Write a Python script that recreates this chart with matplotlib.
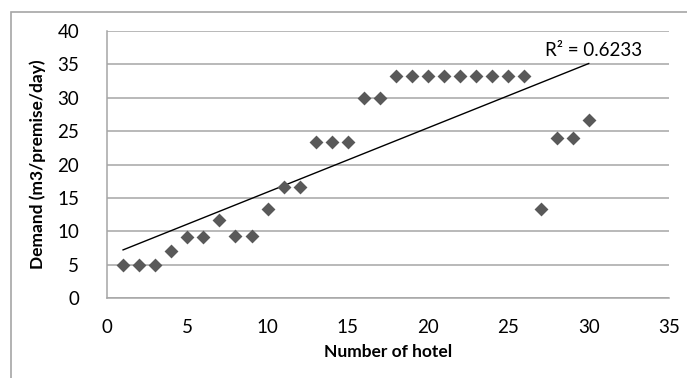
import matplotlib
matplotlib.use('Agg')
import numpy as np
import matplotlib.pyplot as plt
from matplotlib.patches import Rectangle

plt.rcParams['font.family'] = ['Lato', 'DejaVu Sans']

hotels = list(range(1, 31))
demand = [5, 5, 5, 7, 9.2, 9.2, 11.7, 9.3, 9.3, 13.3,
          16.7, 16.7, 23.3, 23.3, 23.3, 30, 30, 33.3, 33.3, 33.3,
          33.3, 33.3, 33.3, 33.3, 33.3, 33.3, 13.3, 24, 24, 26.7]
r2_label = 'R² = 0.6233'

fig = plt.figure(figsize=(6.87, 3.78), dpi=100)
# chart frame (Excel chart area border)
fig.patches.append(Rectangle((11/687, -0.1), 1.2, 1 - 12/378 + 0.1, transform=fig.transFigure,
                             fill=False, edgecolor='#a6a6a6', linewidth=1.2))
ax = fig.add_axes([107/687, 1 - 298/378, (669 - 107)/687, (298 - 31)/378])

ax.scatter(hotels, demand, marker='D', s=50, color='#595959', zorder=3, linewidths=0)

# linear trend line
x = np.array(hotels, dtype=float)
y = np.array(demand)
m, b = np.polyfit(x, y, 1)
xs = np.array([x.min(), x.max()])
ax.plot(xs, m*xs + b, color='black', linewidth=1, zorder=2)
ax.text(30.3, 37.1, r2_label, ha='center', va='center', fontsize=13.5)

ax.set_xlim(0, 35)
ax.set_ylim(0, 40)
ax.set_xticks(range(0, 36, 5))
ax.set_yticks(range(0, 41, 5))
ax.grid(axis='y', color='#a6a6a6', linewidth=1.1)
ax.set_axisbelow(True)
for s in ['top', 'right']:
    ax.spines[s].set_visible(False)
for s in ['left', 'bottom']:
    ax.spines[s].set_color('#a6a6a6')
    ax.spines[s].set_linewidth(1.1)
ax.tick_params(length=0, labelsize=13.5)
ax.tick_params(axis='x', pad=15)
ax.tick_params(axis='y', pad=20)
ax.set_xlabel('Number of hotel', fontsize=12.5, fontweight='bold', labelpad=6)
ax.set_ylabel('Demand (m3/premise/day)', fontsize=12.5, fontweight='bold', labelpad=8)

fig.savefig('out.png', dpi=100)
